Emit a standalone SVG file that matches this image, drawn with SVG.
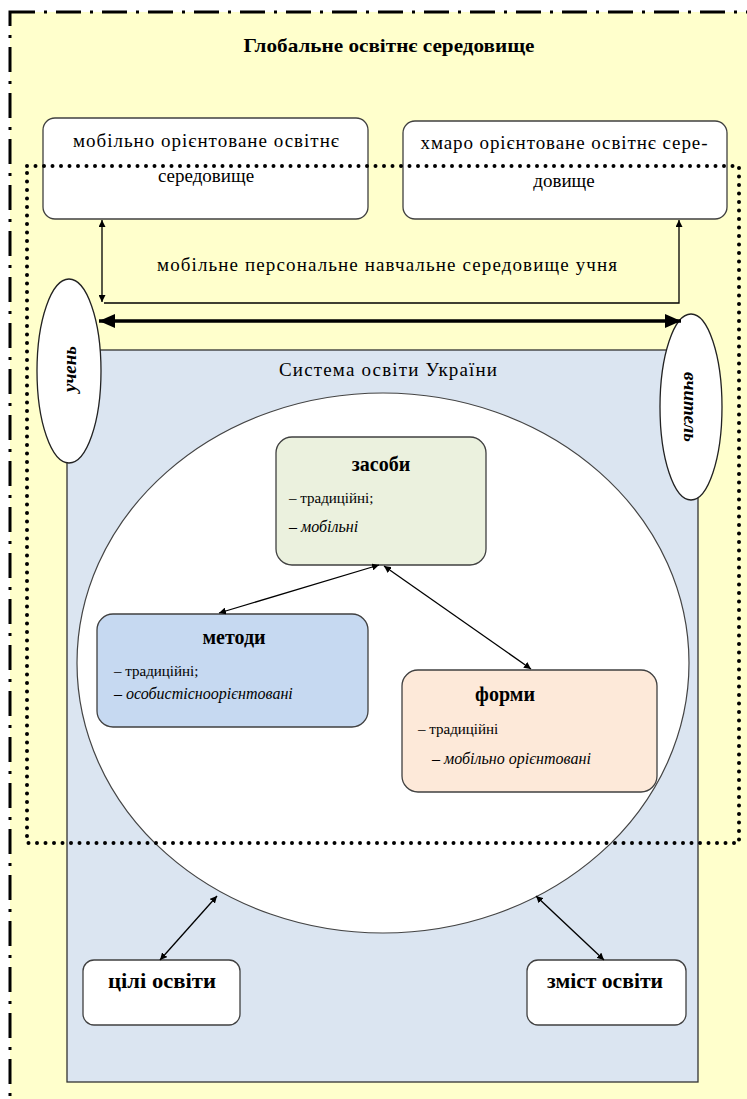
<svg xmlns="http://www.w3.org/2000/svg" width="747" height="1099" viewBox="0 0 747 1099">
<defs>
<marker id="ah" viewBox="0 0 10 10" refX="10" refY="5" markerWidth="7" markerHeight="7" markerUnits="userSpaceOnUse" orient="auto-start-reverse"><path d="M0,0 L10,5 L0,10 z" fill="#000"/></marker>
<marker id="ahb" viewBox="0 0 10 10" refX="10" refY="5" markerWidth="16" markerHeight="14" markerUnits="userSpaceOnUse" orient="auto-start-reverse" preserveAspectRatio="none"><path d="M0,0 L10,5 L0,10 z" fill="#000"/></marker>
</defs>
<style>
text{font-family:"Liberation Serif","Times New Roman",serif;fill:#000}
.box{stroke:#404040;stroke-width:1.3}
.t{font-size:19px}
.b{font-weight:bold}
.i{font-style:italic}
.s{font-size:15px}
.si{font-size:16px;font-style:italic}
.h{font-size:20px;font-weight:bold}
.c{stroke:#000;stroke-width:1.3;fill:none}
</style>
<rect x="0" y="0" width="747" height="1099" fill="#fff"/>
<rect x="10" y="12" width="760" height="1110" fill="#FFFFCC" stroke="#000" stroke-width="3" stroke-dasharray="25 9 3 9"/>
<text class="b" x="389" y="52" font-size="19" text-anchor="middle" textLength="291" lengthAdjust="spacingAndGlyphs">Глобальне освітнє середовище</text>

<g id="mobile-env">
<rect class="box" x="43" y="118" width="325" height="101" rx="12" fill="#fff"/>
<text class="t" x="206" y="147" text-anchor="middle" textLength="266">мобільно орієнтоване освітнє</text>
<text class="t" x="206" y="182" text-anchor="middle">середовище</text>
</g>
<g id="cloud-env">
<rect class="box" x="403" y="121" width="324" height="98" rx="12" fill="#fff"/>
<text class="t" x="564" y="149" text-anchor="middle" textLength="287">хмаро орієнтоване освітнє сере-</text>
<text class="t" x="564" y="187" text-anchor="middle">довище</text>
</g>
<g id="personal-env-label">
<text class="t" x="387" y="271" text-anchor="middle" textLength="460">мобільне персональне навчальне середовище учня</text>
</g>

<g id="system">
<rect x="67" y="350" width="631" height="732" fill="#DBE5F1" stroke="#333" stroke-width="1.3"/>
<text class="t" x="388" y="376" text-anchor="middle" textLength="218">Система освіти України</text>
</g>
<g id="core">
<ellipse cx="383" cy="663" rx="306" ry="270" fill="#fff" stroke="#444" stroke-width="1.2"/>
</g>

<g id="pupil">
<ellipse cx="69" cy="371" rx="32" ry="92" fill="#fff" stroke="#222" stroke-width="1.3"/>
<text class="b i" font-size="19" transform="translate(76,369) rotate(-90)" text-anchor="middle">учень</text>
</g>
<g id="teacher">
<ellipse cx="691" cy="407" rx="31" ry="93" fill="#fff" stroke="#222" stroke-width="1.3"/>
<text class="b i" font-size="19" transform="translate(684,407) rotate(90)" text-anchor="middle">вчитель</text>
</g>

<g id="means">
<rect class="box" x="276" y="437" width="210" height="128" rx="16" fill="#EBF1DE"/>
<text class="h" x="381" y="471" text-anchor="middle">засоби</text>
<text class="s" x="289" y="503">– традиційні;</text>
<text class="si" x="289" y="532">– мобільні</text>
</g>
<g id="methods">
<rect class="box" x="97" y="614" width="271" height="113" rx="16" fill="#C6D9F1"/>
<text class="h" x="234" y="644" text-anchor="middle">методи</text>
<text class="s" x="114" y="676">– традиційні;</text>
<text class="si" x="114" y="699">– особистісноорієнтовані</text>
</g>
<g id="forms">
<rect class="box" x="402" y="670" width="255" height="122" rx="16" fill="#FDE9D9"/>
<text class="h" x="505" y="701" text-anchor="middle">форми</text>
<text class="s" x="418" y="734">– традиційні</text>
<text class="si" x="432" y="764">– мобільно орієнтовані</text>
</g>
<g id="goals">
<rect class="box" x="83" y="960" width="157" height="65" rx="11" fill="#fff"/>
<text class="b" x="162" y="988" font-size="20" text-anchor="middle" textLength="108" lengthAdjust="spacingAndGlyphs">цілі освіти</text>
</g>
<g id="content">
<rect class="box" x="527" y="960" width="159" height="65" rx="11" fill="#fff"/>
<text class="b" x="605" y="988" font-size="20" text-anchor="middle" textLength="116" lengthAdjust="spacingAndGlyphs">зміст освіти</text>
</g>

<g id="connectors">
<line class="c" x1="102" y1="220" x2="102" y2="302" marker-start="url(#ah)" marker-end="url(#ah)"/>
<path class="c" d="M104,303 H679 V220" marker-end="url(#ah)"/>
<line x1="99" y1="321" x2="681" y2="321" stroke="#000" stroke-width="3.5" marker-start="url(#ahb)" marker-end="url(#ahb)"/>
<line class="c" x1="379" y1="565" x2="219" y2="613" marker-start="url(#ah)" marker-end="url(#ah)"/>
<line class="c" x1="384" y1="566" x2="531" y2="669" marker-start="url(#ah)" marker-end="url(#ah)"/>
<line class="c" x1="217" y1="896" x2="160" y2="960" marker-start="url(#ah)" marker-end="url(#ah)"/>
<line class="c" x1="536" y1="896" x2="604" y2="960" marker-start="url(#ah)" marker-end="url(#ah)"/>
</g>

<g id="mobile-learning-boundary">
<path d="M27,166 H739 V843 H27 Z" fill="none" stroke="#000" stroke-width="4" stroke-linecap="round" stroke-dasharray="0 8.5"/>
</g>
</svg>
